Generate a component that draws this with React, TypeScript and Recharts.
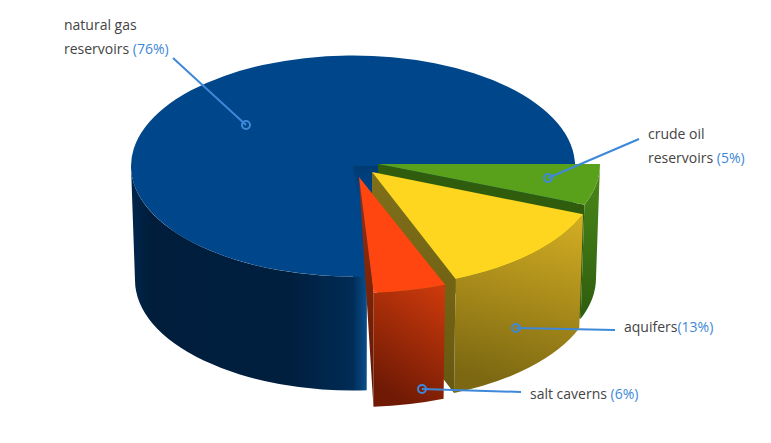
import React from 'react';
import { PieChart, Pie } from 'recharts';

// wedge sizes follow what is drawn in the picture, the printed percents are kept as text
const categories = ['natural gas reservoirs', 'crude oil reservoirs', 'aquifers', 'salt caverns'];
const sliceValues = [76, 6, 13, 5];
const labelLines = [
  ['natural gas', 'reservoirs '],
  ['crude oil', 'reservoirs '],
  ['aquifers'],
  ['salt caverns '],
];
const labelPercents = ['(76%)', '(5%)', '(13%)', '(6%)'];

const tableData = categories.map((name, i) => ({ name, value: sliceValues[i] }));

const CX = 353;
const CY = 166;
const DEPTH = 114;
const BASE_SHRINK = 0.982;

// pulled-out offset and top ellipse of each wedge
const sliceLook = [
  { dx: 0, dy: 0, rx: 222, ry: 110.5, top: '#00468a', wall: 'url(#wallBlue)', cut: 'url(#cutBlue)', cutDrop: DEPTH, cutLift: 4 },
  { dx: 25, dy: -2, rx: 222, ry: 110.5, top: '#5aa11b', wall: 'url(#wallGreen)', cut: '#305c0e', cutDrop: DEPTH, cutLift: 0 },
  { dx: 19, dy: 6, rx: 227, ry: 115, top: '#ffd61f', wall: 'url(#wallYellow)', cut: 'url(#cutYellow)', cutDrop: DEPTH, cutLift: 0 },
  { dx: 6, dy: 11, rx: 234, ry: 116, top: '#ff4510', wall: 'url(#wallRed)', cut: 'url(#cutRed)', cutDrop: 0, cutLift: 0 },
];

const labelLook = [
  { x: 64, y: 30, lineGap: 24, from: [173, 58], dot: [246, 125] },
  { x: 648, y: 139, lineGap: 24, from: [639, 139], dot: [548, 178] },
  { x: 624, y: 332, lineGap: 0, from: [615, 330], dot: [516, 328] },
  { x: 530, y: 399, lineGap: 0, from: [521, 392], dot: [422, 389] },
];

const RAD = Math.PI / 180;

const Slice3D = (props: any) => {
  const look = sliceLook[categories.indexOf(props.name)];
  const { startAngle, endAngle } = props;
  const ox = props.cx + look.dx;
  const oy = props.cy + look.dy;
  const at = (deg: number, shrink = 1, drop = 0) => [
    ox + look.rx * shrink * Math.cos(deg * RAD),
    oy - look.ry * Math.sin(deg * RAD) + drop,
  ];

  const topStart = at(startAngle);
  const topEnd = at(endAngle);
  const big = Math.abs(startAngle - endAngle) > 180 ? 1 : 0;
  const topPath = `M${ox},${oy} L${topStart} A${look.rx},${look.ry} 0 ${big} 1 ${topEnd} Z`;

  // only the part of the rim facing the viewer gets a wall
  const wallEnd = startAngle > 180 ? Math.max(endAngle, 180) : endAngle;
  const a = at(startAngle);
  const b = at(wallEnd);
  const c = at(wallEnd, BASE_SHRINK, DEPTH);
  const d = at(startAngle, BASE_SHRINK, DEPTH);
  const wallPath = `M${a} A${look.rx},${look.ry} 0 0 1 ${b} L${c} A${look.rx * BASE_SHRINK},${look.ry} 0 0 0 ${d} Z`;

  const cutEnd = at(endAngle);
  const cutBase = at(endAngle, BASE_SHRINK, DEPTH);
  const cutPath = `M${ox},${oy - look.cutLift} L${cutEnd[0]},${cutEnd[1] - look.cutLift} L${cutBase} L${ox},${oy + look.cutDrop} Z`;

  return (
    <g>
      <path d={cutPath} fill={look.cut} />
      <path d={wallPath} fill={look.wall} />
      <path d={topPath} fill={look.top} />
    </g>
  );
};

const SliceLabel = (props: any) => {
  const i = categories.indexOf(props.name);
  const look = labelLook[i];
  const lines = labelLines[i];
  return (
    <g>
      <line x1={look.from[0]} y1={look.from[1]} x2={look.dot[0]} y2={look.dot[1]} stroke="#3d88d8" strokeWidth={2} />
      <circle cx={look.dot[0]} cy={look.dot[1]} r={4} fill="none" stroke="#3d88d8" strokeWidth={2} />
      {lines.map((line, k) => (
        <text key={k} x={look.x} y={look.y + k * look.lineGap} fontFamily="'Open Sans'" fontSize={14} fill="#444444" xmlSpace="preserve">
          {line}
          {k === lines.length - 1 && <tspan fill="#3d88d8">{labelPercents[i]}</tspan>}
        </text>
      ))}
    </g>
  );
};

const App = () => {
  return (
    <div style={{ position: 'absolute', left: 0, top: 0, width: 771, height: 443, background: '#fff' }}>
      <PieChart width={771} height={443} margin={{ top: 0, right: 0, bottom: 0, left: 0 }}>
        <defs>
          <linearGradient id="wallBlue" x1="0" y1="0" x2="1" y2="0">
            <stop offset="0%" stopColor="#00264c" />
            <stop offset="8%" stopColor="#001d3c" />
            <stop offset="68%" stopColor="#001f3f" />
            <stop offset="94%" stopColor="#002c56" />
            <stop offset="100%" stopColor="#0a4e8c" />
          </linearGradient>
          <linearGradient id="cutBlue" x1="0" y1="0" x2="0" y2="1">
            <stop offset="0%" stopColor="#003a70" />
            <stop offset="30%" stopColor="#00468a" />
            <stop offset="100%" stopColor="#00468a" />
          </linearGradient>
          <linearGradient id="wallGreen" x1="0" y1="0" x2="0" y2="1">
            <stop offset="0%" stopColor="#4c8a1a" />
            <stop offset="100%" stopColor="#2e5c0e" />
          </linearGradient>
          <linearGradient id="wallYellow" x1="0.8" y1="0" x2="0.6" y2="1">
            <stop offset="0%" stopColor="#d2ac22" />
            <stop offset="100%" stopColor="#7c6812" />
          </linearGradient>
          <linearGradient id="cutYellow" x1="0" y1="0" x2="0" y2="1">
            <stop offset="0%" stopColor="#80701a" />
            <stop offset="100%" stopColor="#665810" />
          </linearGradient>
          <linearGradient id="wallRed" x1="0.9" y1="0" x2="0.5" y2="1">
            <stop offset="0%" stopColor="#cc3a0c" />
            <stop offset="100%" stopColor="#701a05" />
          </linearGradient>
          <linearGradient id="cutRed" x1="0" y1="0" x2="0" y2="1">
            <stop offset="0%" stopColor="#a0300a" />
            <stop offset="100%" stopColor="#5a1604" />
          </linearGradient>
        </defs>
        <Pie
          data={tableData}
          dataKey="value"
          nameKey="name"
          cx={CX}
          cy={CY}
          innerRadius={0}
          outerRadius={222}
          startAngle={273.6}
          endAngle={-86.4}
          paddingAngle={0}
          stroke="none"
          shape={Slice3D}
          label={SliceLabel}
          labelLine={false}
          isAnimationActive={false}
        />
      </PieChart>
    </div>
  );
};

export default App;
